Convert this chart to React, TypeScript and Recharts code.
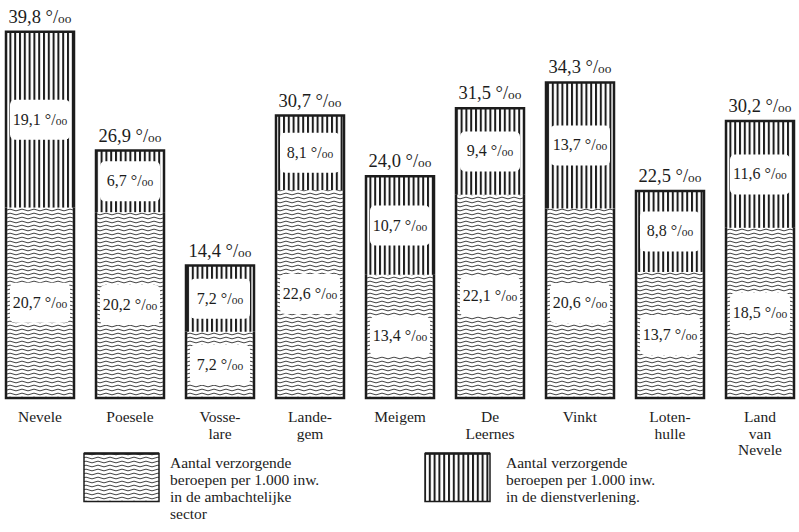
import React from 'react';
import { BarChart, Bar, XAxis, YAxis, LabelList, Legend } from 'recharts';

const categories = ['Nevele', 'Poesele', 'Vosselare', 'Landegem', 'Meigem', 'De Leernes', 'Vinkt', 'Lotenhulle', 'Land van Nevele'];
const categoryLines = [
  ['Nevele'], ['Poesele'], ['Vosse-', 'lare'], ['Lande-', 'gem'], ['Meigem'],
  ['De', 'Leernes'], ['Vinkt'], ['Loten-', 'hulle'], ['Land', 'van', 'Nevele'],
];
const ambachtelijk = [20.7, 20.2, 7.2, 22.6, 13.4, 22.1, 20.6, 13.7, 18.5];
const dienstverlening = [19.1, 6.7, 7.2, 8.1, 10.7, 9.4, 13.7, 8.8, 11.6];
const totals = [39.8, 26.9, 14.4, 30.7, 24.0, 31.5, 34.3, 22.5, 30.2];
const legendLeft = ['Aantal verzorgende', 'beroepen per 1.000 inw.', 'in de ambachtelijke', 'sector'];
const legendRight = ['Aantal verzorgende', 'beroepen per 1.000 inw.', 'in de dienstverlening.'];

const data = categories.map((name, i) => ({
  name,
  amb: ambachtelijk[i],
  dienst: dienstverlening[i],
  total: totals[i],
}));

const ink = '#1c1c1c';
const serif = '"Liberation Serif", "DejaVu Serif", serif';

const fmt = (v: number) => v.toFixed(1).replace('.', ',');

function PerMille({ x, y, v, size }: { x: number; y: number; v: number; size: number }) {
  return (
    <text x={x} y={y} textAnchor="middle" fontFamily={serif} fontSize={size} fill={ink}>
      {fmt(v)} °/<tspan fontSize={size * 0.72}>oo</tspan>
    </text>
  );
}

function Patterns({ prefix }: { prefix: string }) {
  return (
    <defs>
      <pattern id={`${prefix}wave`} width="12" height="4" patternUnits="userSpaceOnUse">
        <rect width="12" height="4" fill="#fff" />
        <path d="M0,2 Q3,0.3 6,2 T12,2" stroke="#2a2a2a" strokeWidth="0.9" fill="none" />
      </pattern>
      <pattern id={`${prefix}vlines`} width="4.8" height="10" patternUnits="userSpaceOnUse">
        <rect width="4.8" height="10" fill="#fff" />
        <rect x="0" y="0" width="2" height="10" fill={ink} />
      </pattern>
    </defs>
  );
}

const BottomShape = (props: any) => {
  const { x, y, width, height } = props;
  return (
    <g>
      <rect x={x} y={y} width={width} height={height} fill="url(#cwave)" />
      <path d={`M${x},${y} V${y + height} H${x + width} V${y}`} stroke={ink} strokeWidth={2.5} fill="none" />
    </g>
  );
};

const TopShape = (props: any) => {
  const { x, y, width, height } = props;
  return (
    <g>
      <rect x={x} y={y} width={width} height={height} fill="url(#cvlines)" />
      <path d={`M${x},${y + height} V${y} H${x + width} V${y + height}`} stroke={ink} strokeWidth={2.5} fill="none" />
    </g>
  );
};

const InnerLabel = (props: any) => {
  const { x, y, width, height, value } = props;
  const boxH = Math.min(40, height - 16);
  const cy = y + height / 2;
  return (
    <g>
      <rect x={x + 4} y={cy - boxH / 2} width={width - 8} height={boxH} rx={5} fill="#fff" />
      <PerMille x={x + width / 2} y={cy + 5} v={value} size={16} />
    </g>
  );
};

const TopLabel = (props: any) => {
  const { x, y, width, value } = props;
  return <PerMille x={x + width / 2} y={y - 9} v={value} size={18.5} />;
};

const CategoryTick = (props: any) => {
  const { x, y, index } = props;
  const lines = categoryLines[index] || [];
  return (
    <text x={x} y={y} textAnchor="middle" fontFamily={serif} fontSize={15.5} fill={ink}>
      {lines.map((l, i) => (
        <tspan key={i} x={x} y={y + 24 + i * 16.5}>{l}</tspan>
      ))}
    </text>
  );
};

function LegendBlock({ left, swatchLeft, swatchW, textLeft, fill, lines }: {
  left: number; swatchLeft: number; swatchW: number; textLeft: number; fill: string; lines: string[];
}) {
  return (
    <>
      <svg style={{ position: 'absolute', left: swatchLeft, top: 4 }} width={swatchW} height={51}>
        <Patterns prefix={`l${left}`} />
        <rect x={1} y={1.5} width={swatchW - 2} height={48} fill={`url(#l${left}${fill})`} stroke={ink} strokeWidth={1.5} />
        <line x1={1} x2={swatchW - 1} y1={1.5} y2={1.5} stroke={ink} strokeWidth={2.5} />
      </svg>
      <div style={{ position: 'absolute', left: textLeft, top: 6, fontFamily: serif, fontSize: 15.5, lineHeight: '17px', color: ink, whiteSpace: 'nowrap' }}>
        {lines.map((l, i) => <div key={i}>{l}</div>)}
      </div>
    </>
  );
}

const LegendContent = () => (
  <div style={{ position: 'relative', width: 810, height: 84 }}>
    <LegendBlock left={0} swatchLeft={88} swatchW={77} textLeft={175} fill="wave" lines={legendLeft} />
    <LegendBlock left={1} swatchLeft={429} swatchW={67} textLeft={511} fill="vlines" lines={legendRight} />
  </div>
);

export default function App() {
  return (
    <div style={{ position: 'absolute', left: 0, top: 0, width: 799, height: 532, overflow: 'hidden', background: '#fff' }}>
      <div style={{ position: 'absolute', left: -5, top: 0 }}>
        <BarChart width={810} height={532} data={data} margin={{ top: 30, right: 0, left: 0, bottom: 104 }} barSize={68}>
          <Patterns prefix="c" />
          <XAxis dataKey="name" axisLine={false} tickLine={false} tickSize={0} tickMargin={0} height={30} interval={0} tick={<CategoryTick />} />
          <YAxis hide domain={[0, 40]} />
          <Bar dataKey="amb" stackId="a" shape={<BottomShape />} isAnimationActive={false}>
            <LabelList dataKey="amb" content={<InnerLabel />} />
          </Bar>
          <Bar dataKey="dienst" stackId="a" shape={<TopShape />} isAnimationActive={false}>
            <LabelList dataKey="dienst" content={<InnerLabel />} />
            <LabelList dataKey="total" content={<TopLabel />} />
          </Bar>
          <Legend layout="horizontal" verticalAlign="middle" align="center" wrapperStyle={{ left: 0, top: 448, width: 810, height: 84 }} content={<LegendContent />} />
        </BarChart>
      </div>
    </div>
  );
}
